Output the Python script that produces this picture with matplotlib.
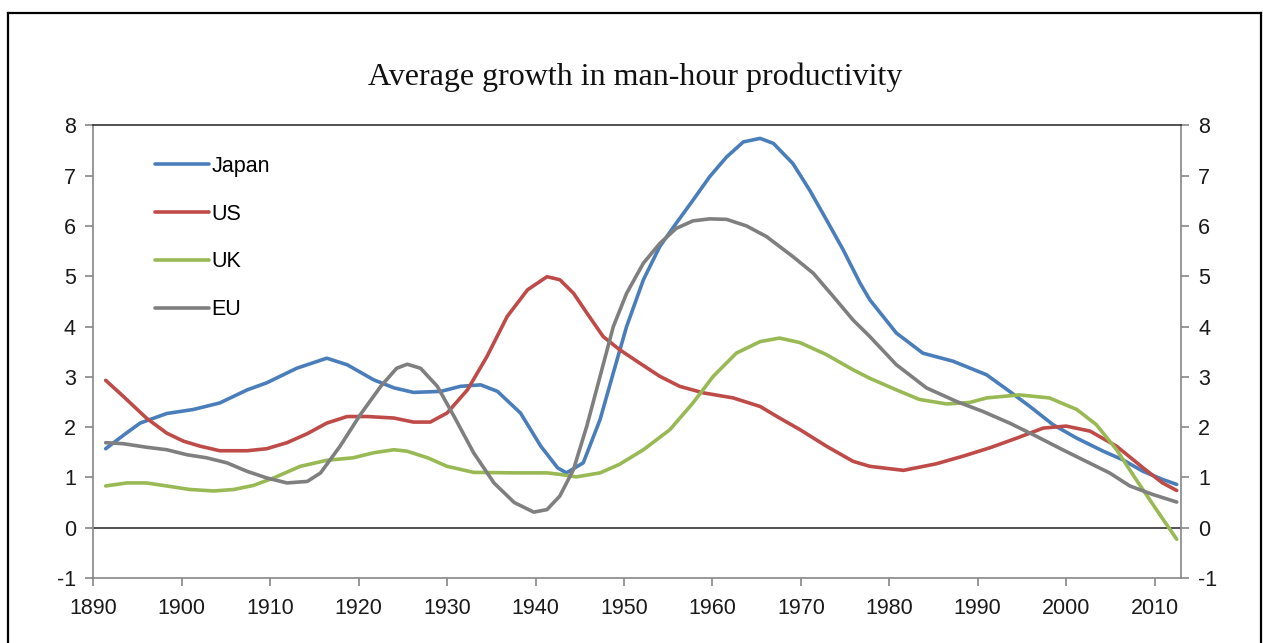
import numpy as np
import matplotlib
matplotlib.use("Agg")
import matplotlib.pyplot as plt
from matplotlib.lines import Line2D

plt.rcParams['axes.unicode_minus'] = False

# values (year, growth %)
japan_years = [1891.4, 1893.5, 1895.3, 1898.3, 1901.3, 1904.3, 1907.4, 1909.6, 1913.0, 1916.4,
               1918.7, 1921.7, 1924.0, 1926.2, 1929.3, 1931.5, 1933.8, 1935.7, 1938.3, 1940.6,
               1942.5, 1943.5, 1945.4, 1947.3, 1948.8, 1950.3, 1952.2, 1954.05, 1955.9, 1957.8,
               1959.7, 1961.6, 1963.5, 1965.4, 1966.9, 1969.1, 1971.0, 1972.9, 1974.8, 1976.7,
               1977.8, 1980.8, 1983.8, 1987.2, 1991.0, 1993.6, 1995.9, 1998.5, 2001.2, 2004.2,
               2006.4, 2008.7, 2010.9, 2012.5]
japan_vals = [1.57, 1.85, 2.08, 2.27, 2.35, 2.48, 2.74, 2.88, 3.17, 3.37,
              3.24, 2.94, 2.78, 2.69, 2.71, 2.81, 2.84, 2.71, 2.28, 1.62,
              1.19, 1.09, 1.29, 2.15, 3.08, 4.00, 4.93, 5.59, 6.05, 6.51,
              6.98, 7.37, 7.67, 7.74, 7.64, 7.24, 6.71, 6.12, 5.52, 4.86,
              4.53, 3.87, 3.47, 3.31, 3.04, 2.71, 2.41, 2.05, 1.78, 1.52,
              1.35, 1.12, 0.96, 0.86]

us_years = [1891.4, 1893.4, 1896.0, 1898.3, 1900.2, 1902.1, 1904.3, 1907.4, 1909.6, 1911.9,
            1914.2, 1916.4, 1918.7, 1921.0, 1924.0, 1926.2, 1928.1, 1930.0, 1932.3, 1934.5,
            1936.8, 1939.1, 1941.3, 1942.75, 1944.3, 1945.8, 1947.65, 1949.5, 1951.8, 1954.05,
            1956.3, 1959.0, 1962.35, 1965.4, 1967.6, 1969.9, 1972.9, 1975.9, 1977.8, 1981.6,
            1985.3, 1988.3, 1991.4, 1994.4, 1997.4, 2000.0, 2002.7, 2005.7, 2008.7, 2010.9,
            2012.5]
us_vals = [2.93, 2.61, 2.18, 1.88, 1.72, 1.62, 1.53, 1.53, 1.57, 1.69,
           1.87, 2.08, 2.21, 2.21, 2.18, 2.10, 2.10, 2.28, 2.74, 3.40,
           4.20, 4.73, 4.99, 4.93, 4.66, 4.27, 3.80, 3.54, 3.27, 3.01,
           2.81, 2.68, 2.58, 2.41, 2.18, 1.95, 1.62, 1.32, 1.22, 1.14,
           1.27, 1.42, 1.59, 1.78, 1.98, 2.02, 1.92, 1.62, 1.19, 0.89,
           0.74]

uk_years = [1891.4, 1893.8, 1896.0, 1898.3, 1900.9, 1903.6, 1905.9, 1908.1, 1910.4, 1913.4,
            1916.4, 1919.4, 1921.7, 1924.0, 1925.5, 1927.8, 1930.0, 1933.0, 1937.6, 1941.3,
            1942.75, 1944.6, 1947.3, 1949.5, 1952.2, 1955.2, 1957.8, 1960.1, 1962.7, 1965.4,
            1967.6, 1969.9, 1972.9, 1975.9, 1977.8, 1980.8, 1983.4, 1986.5, 1989.1, 1991.0,
            1994.7, 1998.1, 2001.2, 2003.4, 2005.7, 2007.9, 2010.2, 2012.5]
uk_vals = [0.83, 0.89, 0.89, 0.83, 0.76, 0.73, 0.76, 0.84, 0.99, 1.22,
           1.34, 1.39, 1.49, 1.55, 1.52, 1.39, 1.22, 1.10, 1.09, 1.09,
           1.06, 1.01, 1.09, 1.26, 1.55, 1.95, 2.48, 3.01, 3.47, 3.70,
           3.77, 3.68, 3.44, 3.14, 2.97, 2.74, 2.55, 2.46, 2.49, 2.58,
           2.64, 2.58, 2.35, 2.05, 1.55, 0.96, 0.36, -0.23]

eu_years = [1891.4, 1893.4, 1896.0, 1898.3, 1900.6, 1902.8, 1905.1, 1907.4, 1909.6, 1911.9,
            1914.2, 1915.7, 1917.9, 1920.2, 1922.5, 1924.3, 1925.5, 1927.0, 1928.9, 1930.8,
            1933.0, 1935.3, 1937.6, 1939.8, 1941.3, 1942.75, 1944.3, 1945.8, 1947.3, 1948.8,
            1950.3, 1952.2, 1954.05, 1955.9, 1957.8, 1959.7, 1961.6, 1963.85, 1966.1, 1969.1,
            1971.4, 1973.65, 1975.9, 1977.8, 1980.8, 1984.2, 1987.6, 1990.6, 1993.6, 1996.6,
            1999.6, 2001.9, 2004.9, 2007.2, 2009.8, 2012.5]
eu_vals = [1.69, 1.67, 1.60, 1.55, 1.45, 1.39, 1.29, 1.12, 0.99, 0.89,
           0.92, 1.09, 1.62, 2.25, 2.81, 3.17, 3.25, 3.17, 2.81, 2.21,
           1.49, 0.89, 0.50, 0.31, 0.36, 0.63, 1.16, 2.02, 3.01, 4.00,
           4.66, 5.26, 5.65, 5.95, 6.10, 6.14, 6.13, 6.00, 5.79, 5.39,
           5.06, 4.60, 4.13, 3.80, 3.24, 2.78, 2.51, 2.31, 2.08, 1.82,
           1.55, 1.35, 1.09, 0.83, 0.66, 0.51]

series_names = ['Japan', 'US', 'UK', 'EU']
series_colors = ['#4A7EBB', '#BE4B48', '#98B954', '#7F7F7F']
x_ticks = list(range(1890, 2011, 10))
y_ticks = list(range(-1, 9))

W, H = 1263, 643
fig = plt.figure(figsize=(W/100, H/100), dpi=100)
ax = fig.add_axes([93.3/W, 65/H, (1180.7-93.3)/W, (578-125.3)/H])

data = [(japan_years, japan_vals), (us_years, us_vals), (uk_years, uk_vals), (eu_years, eu_vals)]
for (xs, ys), name, col in zip(data, series_names, series_colors):
    ax.plot(xs, ys, color=col, lw=2.6, label=name, solid_capstyle='round',
            solid_joinstyle='round', zorder=3)

ax.axhline(0, color='#333333', lw=1.2, zorder=2)

ax.set_xlim(1890, 2012.95)
ax.set_ylim(-1, 8)
ax.set_xticks(x_ticks)
ax.set_yticks(y_ticks)

grey = '#868686'
for side in ['left', 'right', 'bottom']:
    ax.spines[side].set_color(grey)
    ax.spines[side].set_linewidth(1.2)
ax.spines['top'].set_color('#333333')
ax.spines['top'].set_linewidth(1.2)

ax.tick_params(axis='both', direction='out', color=grey, length=5.5, width=1.2,
               labelsize=15.5, labelcolor='#1a1a1a')
ax.tick_params(axis='y', right=True, labelright=True, pad=7)
ax.tick_params(axis='x', pad=9)
for lab in ax.get_xticklabels() + ax.get_yticklabels():
    lab.set_family('Liberation Sans')

ax.legend(loc='upper left', bbox_to_anchor=(155/W, 1-156/H), bbox_transform=fig.transFigure,
          frameon=False, handlelength=2.5, handletextpad=0.12, labelspacing=1.24,
          borderpad=0, borderaxespad=0, prop={'family': 'Liberation Sans', 'size': 15.5})

fig.text(635/W, 1-77/H, 'Average growth in man-hour productivity', ha='center', va='center',
         family='Liberation Serif', fontsize=23, color='#111111')

# outer frame (no bottom edge visible)
fig.add_artist(Line2D([8/W, 8/W], [0, 1-13/H], transform=fig.transFigure, color='black', lw=1.6))
fig.add_artist(Line2D([8/W, 1261/W], [1-13/H, 1-13/H], transform=fig.transFigure, color='black', lw=1.6))
fig.add_artist(Line2D([1261/W, 1261/W], [0, 1-13/H], transform=fig.transFigure, color='black', lw=1.6))

fig.savefig('out.png', dpi=100)
